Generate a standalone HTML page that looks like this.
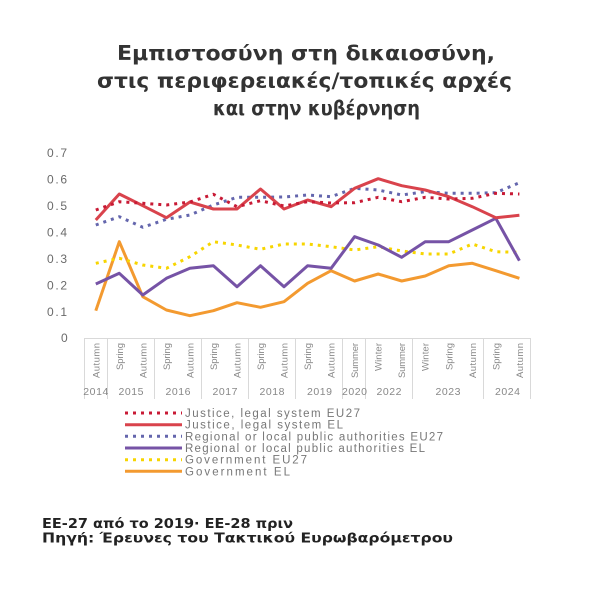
<!DOCTYPE html>
<html>
<head>
<meta charset="utf-8">
<style>
html,body{margin:0;padding:0;background:#fff;}
svg{display:block;}
</style>
</head>
<body>
<svg width="600" height="600" viewBox="0 0 600 600" xmlns="http://www.w3.org/2000/svg">
<rect width="600" height="600" fill="#fff"/>
<!-- Title -->
<g font-family="'DejaVu Sans','Liberation Sans',sans-serif" font-weight="bold" font-size="20" fill="#333" text-anchor="middle">
<text x="306" y="60" textLength="378" lengthAdjust="spacingAndGlyphs">Εμπιστοσύνη στη δικαιοσύνη,</text>
<text x="304.5" y="87.5" textLength="415" lengthAdjust="spacingAndGlyphs">στις περιφερειακές/τοπικές αρχές</text>
<text x="316.5" y="115" textLength="207" lengthAdjust="spacingAndGlyphs">και στην κυβέρνηση</text>
</g>

<!-- Y tick labels -->
<g font-family="'Liberation Sans',sans-serif" font-size="12" fill="#6a6a6a">
<text x="47" y="157" textLength="20" lengthAdjust="spacing">0.7</text>
<text x="47" y="183.5" textLength="20" lengthAdjust="spacing">0.6</text>
<text x="47" y="210" textLength="20" lengthAdjust="spacing">0.5</text>
<text x="47" y="236.5" textLength="20" lengthAdjust="spacing">0.4</text>
<text x="47" y="263" textLength="20" lengthAdjust="spacing">0.3</text>
<text x="47" y="289.5" textLength="20" lengthAdjust="spacing">0.2</text>
<text x="47" y="316" textLength="20" lengthAdjust="spacing">0.1</text>
<text x="61" y="342">0</text>
</g>

<!-- Axis -->
<g stroke="#d9d9d9" stroke-width="1">
<line x1="84" y1="338.5" x2="531" y2="338.5"/>
<line x1="84.5" y1="338" x2="84.5" y2="399"/>
<line x1="107.5" y1="338" x2="107.5" y2="399"/>
<line x1="154.5" y1="338" x2="154.5" y2="399"/>
<line x1="201.5" y1="338" x2="201.5" y2="399"/>
<line x1="248.5" y1="338" x2="248.5" y2="399"/>
<line x1="295.5" y1="338" x2="295.5" y2="399"/>
<line x1="342.5" y1="338" x2="342.5" y2="399"/>
<line x1="365.5" y1="338" x2="365.5" y2="399"/>
<line x1="412.5" y1="338" x2="412.5" y2="399"/>
<line x1="483.5" y1="338" x2="483.5" y2="399"/>
<line x1="530.5" y1="338" x2="530.5" y2="399"/>
</g>

<!-- X category labels (rotated) -->
<g font-family="'Liberation Sans',sans-serif" font-size="9.5" fill="#888" text-anchor="end">
<text transform="translate(99.3,343) rotate(-90)" textLength="35" lengthAdjust="spacing">Autumn</text>
<text transform="translate(122.8,343) rotate(-90)" textLength="27" lengthAdjust="spacing">Spring</text>
<text transform="translate(146.3,343) rotate(-90)" textLength="35" lengthAdjust="spacing">Autumn</text>
<text transform="translate(169.9,343) rotate(-90)" textLength="27" lengthAdjust="spacing">Spring</text>
<text transform="translate(193.4,343) rotate(-90)" textLength="35" lengthAdjust="spacing">Autumn</text>
<text transform="translate(216.9,343) rotate(-90)" textLength="27" lengthAdjust="spacing">Spring</text>
<text transform="translate(240.5,343) rotate(-90)" textLength="35" lengthAdjust="spacing">Autumn</text>
<text transform="translate(264,343) rotate(-90)" textLength="27" lengthAdjust="spacing">Spring</text>
<text transform="translate(287.5,343) rotate(-90)" textLength="35" lengthAdjust="spacing">Autumn</text>
<text transform="translate(311.1,343) rotate(-90)" textLength="27" lengthAdjust="spacing">Spring</text>
<text transform="translate(334.6,343) rotate(-90)" textLength="35" lengthAdjust="spacing">Autumn</text>
<text transform="translate(358.1,343) rotate(-90)" textLength="35" lengthAdjust="spacing">Summer</text>
<text transform="translate(381.7,343) rotate(-90)" textLength="28" lengthAdjust="spacing">Winter</text>
<text transform="translate(405.2,343) rotate(-90)" textLength="35" lengthAdjust="spacing">Summer</text>
<text transform="translate(428.7,343) rotate(-90)" textLength="28" lengthAdjust="spacing">Winter</text>
<text transform="translate(452.3,343) rotate(-90)" textLength="27" lengthAdjust="spacing">Spring</text>
<text transform="translate(475.8,343) rotate(-90)" textLength="35" lengthAdjust="spacing">Autumn</text>
<text transform="translate(499.3,343) rotate(-90)" textLength="27" lengthAdjust="spacing">Spring</text>
<text transform="translate(522.9,343) rotate(-90)" textLength="35" lengthAdjust="spacing">Autumn</text>
</g>

<!-- Years -->
<g font-family="'Liberation Sans',sans-serif" font-size="10.5" fill="#888" text-anchor="middle">
<text x="95.8" y="395" textLength="25" lengthAdjust="spacing">2014</text>
<text x="131" y="395" textLength="25" lengthAdjust="spacing">2015</text>
<text x="178" y="395" textLength="25" lengthAdjust="spacing">2016</text>
<text x="225" y="395" textLength="25" lengthAdjust="spacing">2017</text>
<text x="272" y="395" textLength="25" lengthAdjust="spacing">2018</text>
<text x="319.5" y="395" textLength="25" lengthAdjust="spacing">2019</text>
<text x="354.5" y="395" textLength="25" lengthAdjust="spacing">2020</text>
<text x="389" y="395" textLength="25" lengthAdjust="spacing">2022</text>
<text x="448" y="395" textLength="25" lengthAdjust="spacing">2023</text>
<text x="507.5" y="395" textLength="25" lengthAdjust="spacing">2024</text>
</g>

<!-- Series -->
<g fill="none" stroke-width="3" stroke-linejoin="round">
<polyline stroke="#f39a30" points="95.8,310.7 119.3,241.7 142.8,296.7 166.4,310 189.9,315.7 213.4,310.7 237,302.7 260.5,307.3 284,301.7 307.6,283.3 331.1,270.7 354.6,281 378.2,274 401.7,281 425.2,276 448.8,265.7 472.3,263.3 495.8,270.7 519.4,278.3"/>
<polyline stroke="#f7d500" stroke-dasharray="3 5" points="95.8,263.3 119.3,258.3 142.8,265 166.4,268.3 189.9,256.7 213.4,241.7 237,245 260.5,249.3 284,244 307.6,244 331.1,246.7 354.6,250 378.2,246.7 401.7,251 425.2,254 448.8,254 472.3,244 495.8,251.7 519.4,252.3"/>
<polyline stroke="#7653a6" points="95.8,284 119.3,273.3 142.8,295 166.4,278.3 189.9,268.3 213.4,265.7 237,286.7 260.5,265.7 284,286.7 307.6,265.7 331.1,268.3 354.6,236.7 378.2,245 401.7,257.3 425.2,241.7 448.8,241.7 472.3,230 495.8,218.3 519.4,260.7"/>
<polyline stroke="#6466ad" stroke-dasharray="3 5" points="95.8,225 119.3,216.7 142.8,227.3 166.4,219.3 189.9,215 213.4,205 237,197.3 260.5,197.3 284,197 307.6,195 331.1,196.7 354.6,188.3 378.2,190 401.7,195 425.2,191.7 448.8,193.3 472.3,193.3 495.8,192.7 519.4,182.7"/>
<polyline stroke="#d9434c" points="95.8,220 119.3,194 142.8,205.7 166.4,217.7 189.9,202 213.4,209 237,209 260.5,189 284,209 307.6,200 331.1,206.7 354.6,188.3 378.2,178.7 401.7,185.7 425.2,190 448.8,196.7 472.3,206.7 495.8,217.7 519.4,215.3"/>
<polyline stroke="#c81a35" stroke-dasharray="3 5" points="95.8,210 119.3,201.7 142.8,203.3 166.4,205 189.9,202 213.4,194.3 237,206.7 260.5,200.7 284,206 307.6,201.7 331.1,203 354.6,202.7 378.2,197.3 401.7,201.7 425.2,197.3 448.8,199 472.3,198.3 495.8,193.3 519.4,194"/>
</g>

<!-- Legend -->
<g stroke-width="3" fill="none">
<line x1="125" y1="413" x2="182" y2="413" stroke="#c81a35" stroke-dasharray="3 5"/>
<line x1="125" y1="424.7" x2="182" y2="424.7" stroke="#d9434c"/>
<line x1="125" y1="436.3" x2="182" y2="436.3" stroke="#6466ad" stroke-dasharray="3 5"/>
<line x1="125" y1="448" x2="182" y2="448" stroke="#7653a6"/>
<line x1="125" y1="459.7" x2="182" y2="459.7" stroke="#f7d500" stroke-dasharray="3 5"/>
<line x1="125" y1="471.3" x2="182" y2="471.3" stroke="#f39a30"/>
</g>
<g font-family="'Liberation Sans',sans-serif" font-size="11.5" fill="#777">
<text x="185" y="417" textLength="175" lengthAdjust="spacing">Justice,  legal system EU27</text>
<text x="185" y="428.7" textLength="158" lengthAdjust="spacing">Justice,  legal system EL</text>
<text x="185" y="440.3" textLength="258" lengthAdjust="spacing">Regional or local public authorities EU27</text>
<text x="185" y="452" textLength="240" lengthAdjust="spacing">Regional or local public authorities EL</text>
<text x="185" y="463.7" textLength="122" lengthAdjust="spacing">Government  EU27</text>
<text x="185" y="475.3" textLength="105" lengthAdjust="spacing">Government  EL</text>
</g>

<!-- Footer -->
<g font-family="'DejaVu Sans','Liberation Sans',sans-serif" font-weight="bold" font-size="13.5" fill="#222">
<text x="42" y="528" textLength="251" lengthAdjust="spacingAndGlyphs">ΕΕ-27 από το 2019· ΕΕ-28 πριν</text>
<text x="42" y="542.5" textLength="411" lengthAdjust="spacingAndGlyphs">Πηγή: Έρευνες του Τακτικού Ευρωβαρόμετρου</text>
</g>
</svg>
</body>
</html>
